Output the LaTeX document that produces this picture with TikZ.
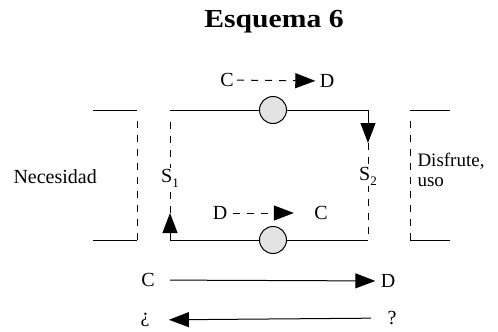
\documentclass[tikz,border=0pt]{standalone}
\usepackage{fontspec}
\setmainfont{Liberation Serif}
\usetikzlibrary{arrows.meta}
\begin{document}
\begin{tikzpicture}[x=1pt,y=-1pt, line width=1pt,
  txt/.style={font=\fontsize{20}{22}\selectfont, inner sep=0pt},
  tip/.style={-{Triangle[length=20pt,width=15pt]}},
  dsh/.style={dash pattern=on 7pt off 7pt},
  ball/.style={circle, draw, fill=gray!22, minimum size=27pt, inner sep=0pt},
  slab/.style={txt, fill=white, inner sep=1pt, anchor=base}]
\useasboundingbox (0,0) rectangle (498,332);
% title
\node[font=\bfseries\fontsize{26}{28}\selectfont, inner sep=0pt] (title) at (274,22) {\scalebox{1.14}[1]{Esquema 6}};
% top dashed arrow
\node[txt] (c1) at (227,80) {C};
\node[txt] (d1) at (327,81) {D};
\draw[dsh, tip, shorten <=3pt, shorten >=4pt] (c1) -- (d1);
% rectangle corners
\coordinate (tl) at (170,110);
\coordinate (tr) at (368,110);
\coordinate (bl) at (170,240);
\coordinate (br) at (368,240);
\coordinate (ltop) at (170,121);
\coordinate (rtip) at (368,143);
\coordinate (ltip) at (170,213);
\node[ball] (b1) at (273,110) {};
\node[ball] (b2) at (273,240) {};
\draw (tl) -- (b1) -- (tr);
\draw (bl) -- (b2) -- (br);
\draw[tip] (tr) -- (rtip);
\draw[dsh] (rtip) -- (br);
\draw[tip] (bl) -- (ltip);
\draw[dsh] (ltip) -- (ltop);
\node[slab] (s1) at (170,182) {S\raisebox{-5pt}{\fontsize{13}{14}\selectfont 1}};
\node[slab] (s2) at (368,180) {S\raisebox{-5pt}{\fontsize{13}{14}\selectfont 2}};
% bottom dashed arrow
\node[txt] (d2) at (220,213) {D};
\node[txt] (c2) at (321,213) {C};
\draw[dsh, tip, shorten <=5pt, shorten >=20pt] (d2) -- (c2);
% left bracket
\coordinate (la) at (93,110);
\coordinate (lb) at (137,110);
\coordinate (lbd) at (137,121);
\coordinate (lc) at (137,240);
\coordinate (ld) at (93,240);
\draw (la) -- (lb);
\draw[dsh] (lbd) -- (lc);
\draw (lc) -- (ld);
% right bracket
\coordinate (ra) at (450,110);
\coordinate (rb) at (410,110);
\coordinate (rbd) at (410,121);
\coordinate (rc) at (410,240);
\coordinate (rd) at (450,240);
\draw (ra) -- (rb);
\draw[dsh] (rbd) -- (rc);
\draw (rc) -- (rd);
% side labels
\node[txt, anchor=base west] (nec) at (13,183) {Necesidad};
\node[txt, anchor=north west, align=left, font=\fontsize{19}{20}\selectfont] (dis) at (417,153) {Disfrute,\\uso};
% bottom arrows
\node[txt] (c3) at (148,280) {C};
\node[txt] (d3) at (388,281) {D};
\draw[tip, shorten <=15pt, shorten >=5pt] (c3) -- (d3);
\node[txt] (q1) at (145,320) {¿};
\node[txt] (q2) at (392,318) {?};
\draw[tip, shorten <=16pt, shorten >=19pt] (q2) -- (q1);
\end{tikzpicture}
\end{document}
